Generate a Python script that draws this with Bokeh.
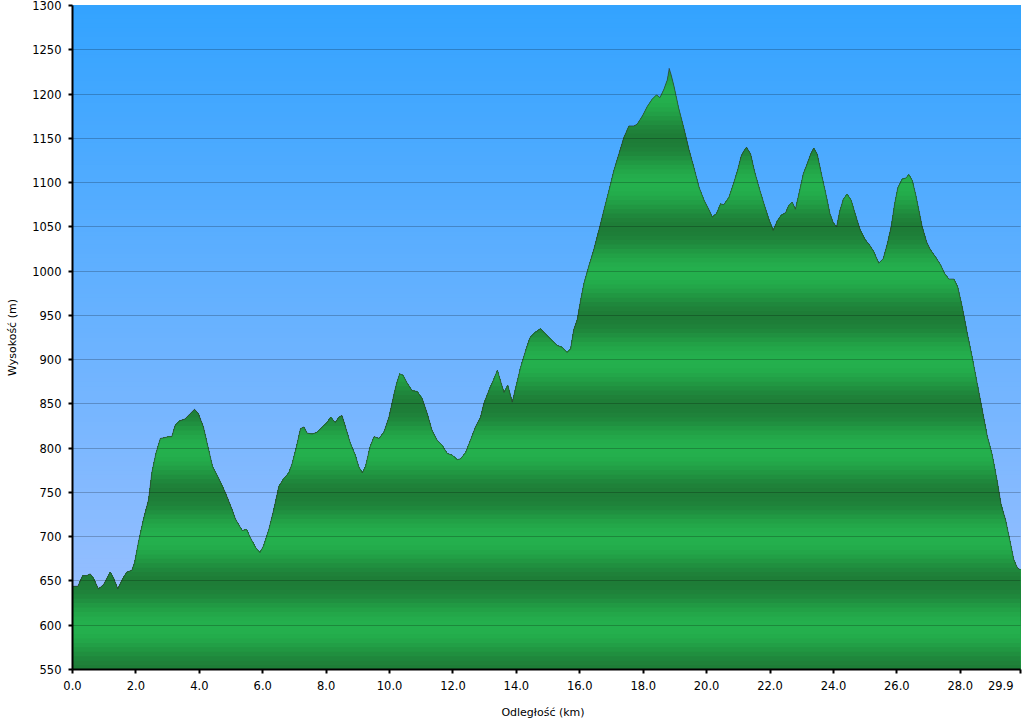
import numpy as np
from bokeh.plotting import figure
from bokeh.models import FixedTicker, NumeralTickFormatter
from bokeh.embed import file_html
from bokeh.resources import INLINE

# ---- data (distance km, elevation m) ----
distance_km = [0.0, 0.03, 0.17, 0.32, 0.45, 0.56, 0.66, 0.82, 0.98, 1.19, 1.30, 1.43, 1.56, 1.71, 1.87,
               1.96, 2.08, 2.24, 2.40, 2.50, 2.63, 2.77, 2.92, 3.03, 3.13, 3.24, 3.39, 3.55, 3.71, 3.85,
               3.97, 4.13, 4.27, 4.42, 4.61, 4.82, 5.03, 5.14, 5.35, 5.49, 5.61, 5.77, 5.91, 6.03, 6.19,
               6.35, 6.51, 6.67, 6.82, 6.93, 7.06, 7.19, 7.30, 7.40, 7.56, 7.72, 7.88, 8.03, 8.14, 8.29,
               8.40, 8.50, 8.61, 8.77, 8.92, 9.03, 9.14, 9.24, 9.38, 9.51, 9.67, 9.82, 9.98, 10.14, 10.22,
               10.32, 10.43, 10.55, 10.71, 10.87, 11.03, 11.19, 11.34, 11.50, 11.66, 11.82, 11.98, 12.13,
               12.24, 12.40, 12.55, 12.71, 12.87, 12.97, 13.13, 13.29, 13.40, 13.50, 13.61, 13.73, 13.87,
               14.01, 14.13, 14.29, 14.43, 14.60, 14.76, 14.92, 15.08, 15.29, 15.44, 15.60, 15.71, 15.81,
               15.92, 16.02, 16.13, 16.28, 16.44, 16.60, 16.76, 16.92, 17.07, 17.23, 17.39, 17.55, 17.71,
               17.81, 17.97, 18.13, 18.28, 18.42, 18.53, 18.65, 18.76, 18.82, 18.88, 18.97, 19.12, 19.28,
               19.44, 19.60, 19.76, 19.92, 20.08, 20.18, 20.31, 20.44, 20.54, 20.70, 20.84, 20.97, 21.09,
               21.18, 21.26, 21.39, 21.51, 21.65, 21.81, 21.96, 22.10, 22.23, 22.35, 22.49, 22.59, 22.70,
               22.80, 22.91, 23.05, 23.17, 23.28, 23.38, 23.49, 23.62, 23.75, 23.89, 23.99, 24.10, 24.20,
               24.31, 24.43, 24.56, 24.70, 24.85, 25.01, 25.15, 25.27, 25.43, 25.57, 25.70, 25.82, 25.93,
               26.03, 26.17, 26.28, 26.38, 26.49, 26.59, 26.70, 26.80, 26.94, 27.06, 27.22, 27.38, 27.51,
               27.64, 27.80, 27.92, 28.06, 28.22, 28.38, 28.53, 28.69, 28.85, 29.01, 29.17, 29.29, 29.43,
               29.57, 29.69, 29.80, 29.88, 29.9]
elevation_m = [644, 644, 644, 656, 656, 658, 653, 641, 646, 660, 653, 641, 651, 660, 662,
               671, 694, 720, 742, 772, 794, 811, 812, 813, 813, 826, 831, 833, 839, 844,
               839, 824, 802, 779, 766, 750, 731, 720, 707, 708, 699, 688, 682, 690, 708,
               731, 757, 766, 772, 783, 801, 822, 824, 817, 816, 818, 824, 829, 835, 829,
               835, 837, 824, 805, 792, 779, 772, 779, 801, 813, 811, 818, 835, 861, 873,
               884, 882, 874, 865, 864, 856, 839, 820, 809, 803, 794, 792, 787,
               788, 795, 809, 824, 835, 850, 865, 878, 888, 876, 863, 871, 852,
               873, 891, 910, 925, 931, 935, 929, 923, 916, 914, 908, 912, 934,
               945, 966, 986, 1005, 1024, 1046, 1069, 1091, 1113, 1132, 1151, 1164, 1164,
               1166, 1175, 1186, 1194, 1199, 1196, 1205, 1216, 1229, 1222, 1209, 1184, 1162,
               1138, 1117, 1095, 1080, 1069, 1061, 1065, 1076, 1075, 1083, 1098, 1113, 1130,
               1136, 1140, 1132, 1113, 1095, 1076, 1059, 1046, 1057, 1063, 1066, 1074, 1078,
               1070, 1087, 1110, 1121, 1132, 1139, 1132, 1110, 1089, 1065, 1055, 1050, 1068,
               1081, 1087, 1080, 1063, 1046, 1035, 1029, 1022, 1009, 1014, 1031, 1050, 1076,
               1094, 1104, 1105, 1109, 1102, 1087, 1068, 1050, 1033, 1024, 1016, 1007, 997,
               991, 991, 982, 960, 930, 902, 874, 844, 814, 792, 762, 736, 719,
               695, 674, 665, 663, 663]

x_ticks = [0, 2, 4, 6, 8, 10, 12, 14, 16, 18, 20, 22, 24, 26, 28]
x_end = 29.9
x_end_label = "29.9"
y_min, y_max = 550, 1300

km = np.array(distance_km, dtype=float)
el = np.array(elevation_m, dtype=float)


def with_crossings(x, y, level):
    xs, ys = [x[0]], [y[0]]
    for i in range(len(x) - 1):
        y0, y1 = y[i], y[i + 1]
        if (y0 - level) * (y1 - level) < 0:
            t = (level - y0) / (y1 - y0)
            xs.append(x[i] + t * (x[i + 1] - x[i]))
            ys.append(level)
        xs.append(x[i + 1])
        ys.append(y[i + 1])
    return np.array(xs), np.array(ys)


def mix(c1, c2, t):
    return "#%02x%02x%02x" % tuple(int(round(a + (b - a) * t)) for a, b in zip(c1, c2))


p = figure(width=1024, height=721, x_range=(0, x_end), y_range=(y_min, y_max),
           output_backend="svg", toolbar_location=None,
           min_border_left=72, min_border_right=4, min_border_top=5, min_border_bottom=46,
           background_fill_color="#ffffff", border_fill_color="#ffffff")

# sky gradient
sky_top = (51, 163, 255)
sky_bot = (162, 194, 255)
step = 5
a_levels = np.arange(y_min, y_max, step)
sky_cols = [mix(sky_bot, sky_top, (a + step / 2 - y_min) / (y_max - y_min)) for a in a_levels]
p.quad(left=0, right=x_end, bottom=a_levels, top=y_max, fill_color=sky_cols, line_color=None)

# green banded terrain
g_light = (36, 176, 77)
g_dark = (30, 124, 55)
b_levels = np.arange(y_min + step, el.max() + step, step)[::-1]
xs_list, ys_list, cols = [], [], []
for b in b_levels:
    xd, yd = with_crossings(km, el, b)
    top = np.minimum(yd, b)
    xs_list.append(np.concatenate([xd, [xd[-1], xd[0]]]))
    ys_list.append(np.concatenate([top, [y_min - 10, y_min - 10]]))
    mid = b - step / 2
    d = (1 + np.cos(2 * np.pi * (mid - 648) / 100)) / 2
    cols.append(mix(g_light, g_dark, d ** 1.1))
p.patches(xs=xs_list, ys=ys_list, fill_color=cols, line_color=None)

p.line(km, el, line_color="#303030", line_alpha=0.6, line_width=1)

# grid
p.xgrid.grid_line_color = None
p.ygrid.grid_line_color = "#000000"
p.ygrid.grid_line_alpha = 0.22
p.ygrid.level = "overlay"
p.outline_line_color = "#3f78a8"
p.outline_line_alpha = 0.7

# axes
font = "DejaVu Sans"
p.yaxis.ticker = FixedTicker(ticks=list(range(550, 1301, 50)))
p.xaxis.ticker = FixedTicker(ticks=x_ticks + [x_end])
p.xaxis.formatter = NumeralTickFormatter(format="0.0")
p.xaxis.major_label_overrides = {x_end: x_end_label + "\u00a0" * 3}
for ax in (p.xaxis[0], p.yaxis[0]):
    ax.axis_line_color = "#000000"
    ax.axis_line_width = 2
    ax.major_tick_line_color = "#000000"
    ax.major_tick_line_width = 2
    ax.major_tick_in = 0
    ax.major_tick_out = 4
    ax.minor_tick_line_color = None
    ax.major_label_text_font = font
    ax.major_label_text_font_size = "11.5px"
    ax.major_label_text_color = "#000000"
    ax.axis_label_text_font = font
    ax.axis_label_text_font_size = "11px"
    ax.axis_label_text_font_style = "normal"
    ax.axis_label_text_color = "#000000"
p.yaxis.major_label_standoff = 7
p.xaxis.major_label_standoff = 5
p.yaxis.axis_label = "Wysokość (m)"
p.xaxis.axis_label = "Odległość   (km)"
p.yaxis.axis_label_standoff = 10
p.xaxis.axis_label_standoff = 10

open("out.html", "w").write(file_html(p, INLINE))
